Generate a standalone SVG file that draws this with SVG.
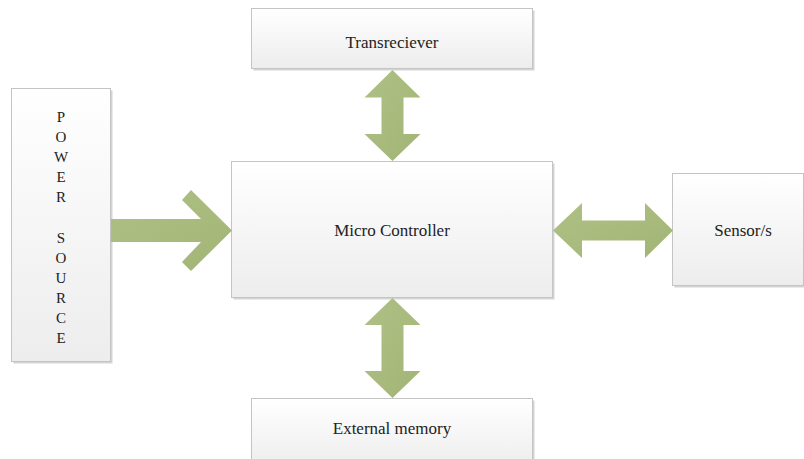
<svg xmlns="http://www.w3.org/2000/svg" width="804" height="459" viewBox="0 0 804 459">
  <defs>
    <linearGradient id="boxFill" x1="0" y1="0" x2="0" y2="1">
      <stop offset="0" stop-color="#ffffff"/>
      <stop offset="1" stop-color="#ededed"/>
    </linearGradient>
    <linearGradient id="arrowFill" x1="0" y1="0" x2="1" y2="1">
      <stop offset="0" stop-color="#afc085"/>
      <stop offset="1" stop-color="#a2b575"/>
    </linearGradient>
  </defs>
  <style>
    .shadow { fill: #d4d4d4; }
    .box { fill: url(#boxFill); stroke: #c4c4c4; stroke-width: 1; }
    .arrow { fill: url(#arrowFill); stroke: none; }
    .label { font-family: "Liberation Serif", "Times New Roman", serif; font-size: 17px; fill: #222222; text-anchor: middle; }
    .vlabel { font-family: "Liberation Serif", "Times New Roman", serif; font-size: 15px; fill: #222222; text-anchor: middle; }
  </style>
  <rect width="804" height="459" fill="#ffffff"/>

  <g id="power-source">
    <rect class="shadow" x="13.5" y="90.5" width="99" height="273"/>
    <rect class="box" x="11.5" y="88.5" width="99" height="273"/>
    <text class="vlabel" x="61" y="122">P</text>
    <text class="vlabel" x="61" y="142">O</text>
    <text class="vlabel" x="61" y="162">W</text>
    <text class="vlabel" x="61" y="182">E</text>
    <text class="vlabel" x="61" y="202">R</text>
    <text class="vlabel" x="61" y="243">S</text>
    <text class="vlabel" x="61" y="263">O</text>
    <text class="vlabel" x="61" y="283">U</text>
    <text class="vlabel" x="61" y="303">R</text>
    <text class="vlabel" x="61" y="323">C</text>
    <text class="vlabel" x="61" y="343">E</text>
  </g>

  <g id="transreciever">
    <rect class="shadow" x="253.5" y="10.5" width="281" height="60"/>
    <rect class="box" x="251.5" y="8.5" width="281" height="60"/>
    <text class="label" x="392" y="48">Transreciever</text>
  </g>

  <g id="micro-controller">
    <rect class="shadow" x="233.5" y="163.5" width="321" height="136"/>
    <rect class="box" x="231.5" y="161.5" width="321" height="136"/>
    <text class="label" x="392" y="236">Micro Controller</text>
  </g>

  <g id="sensors">
    <rect class="shadow" x="674.5" y="175.5" width="131" height="112"/>
    <rect class="box" x="672.5" y="173.5" width="131" height="112"/>
    <text class="label" x="743" y="236">Sensor/s</text>
  </g>

  <g id="external-memory">
    <rect class="shadow" x="253.5" y="400.5" width="281" height="70"/>
    <rect class="box" x="251.5" y="398.5" width="281" height="70"/>
    <text class="label" x="392" y="434">External memory</text>
  </g>

  <g id="connectors">
    <!-- power source to micro controller -->
    <path class="arrow" d="M111 219 L201 219 L182 200 L191 190 L232 230.5 L191 271 L182 262 L201 242 L111 242 Z"/>
    <!-- transreciever <-> micro controller -->
    <path class="arrow" d="M392.5 70 L420.5 97.5 L403.5 97.5 L403.5 134 L420.5 134 L392.5 161 L364.5 134 L381.5 134 L381.5 97.5 L364.5 97.5 Z"/>
    <!-- micro controller <-> external memory -->
    <path class="arrow" d="M392.5 298 L420.5 325 L403.5 325 L403.5 371 L420.5 371 L392.5 398 L364.5 371 L381.5 371 L381.5 325 L364.5 325 Z"/>
    <!-- micro controller <-> sensors -->
    <path class="arrow" d="M553 230.5 L582 203 L582 220.5 L645 220.5 L645 203 L673 230.5 L645 258 L645 240.5 L582 240.5 L582 258 Z"/>
  </g>
</svg>
